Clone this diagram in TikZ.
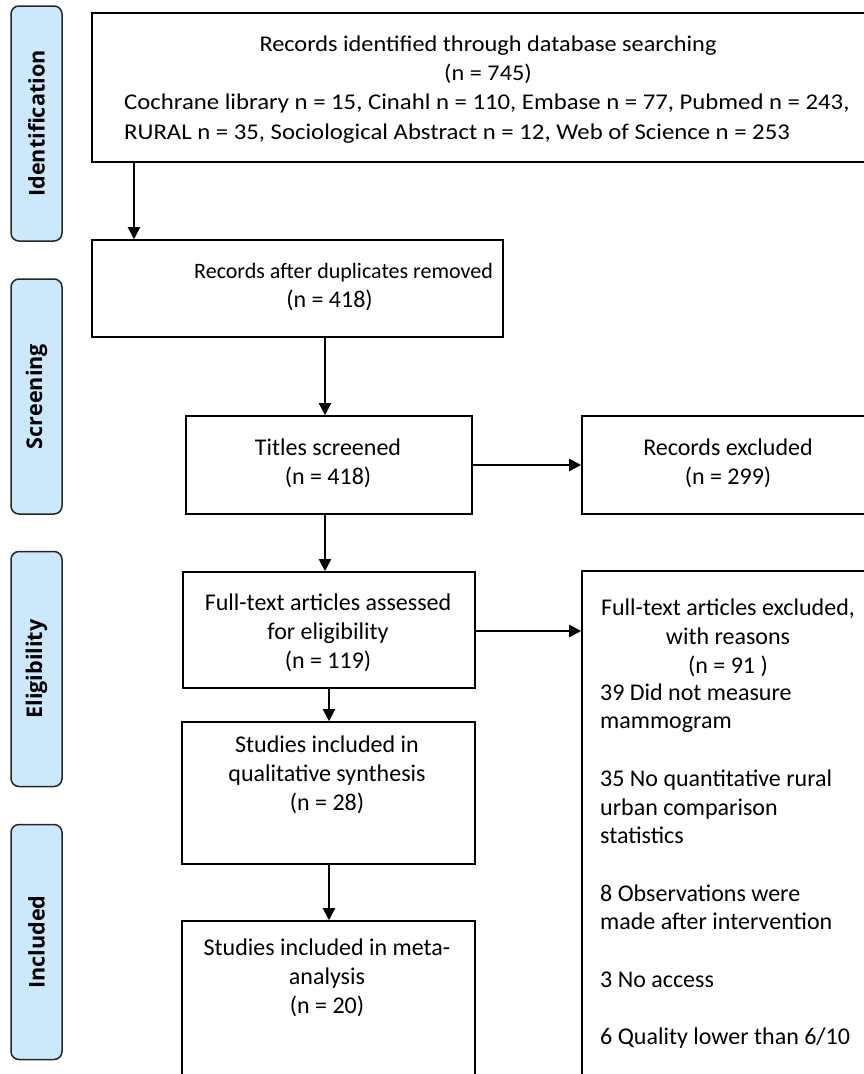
\documentclass[tikz,border=0pt]{standalone}
\usepackage{fontspec}
\setmainfont{Carlito}
\newfontfamily\condfont[FakeStretch=1.08]{Carlito}
\newfontfamily\listfont[FakeStretch=1.10]{Carlito}
\newfontfamily\sidefont{Open Sans}
\usetikzlibrary{arrows.meta}
\definecolor{sideblue}{RGB}{204,233,252}
\begin{document}
\begin{tikzpicture}[x=1pt,y=-1pt,
  box/.style={draw=black, line width=1.6pt, inner sep=0pt},
  arr/.style={line width=2pt, -{Triangle[length=12pt,width=12pt]}},
  side/.style={draw=black!85, line width=1.5pt, fill=sideblue, rounded corners=8pt,
    minimum width=51pt, minimum height=235pt, inner sep=0pt},
  sidetxt/.style={rotate=90, font=\sidefont\bfseries\fontsize{21.6}{26}\selectfont, inner sep=0pt},
  txt/.style={font=\fontsize{24}{29}\selectfont, align=center, inner sep=0pt},
  duptxt/.style={font=\fontsize{22}{26}\selectfont, inner sep=0pt},
  listtxt/.style={font=\fontsize{24}{28.7}\selectfont, align=left, inner sep=0pt},
  toptxt/.style={font=\condfont\fontsize{22.5}{29.3}\selectfont, inner sep=0pt},
  toplist/.style={font=\listfont\fontsize{22.5}{29.3}\selectfont, inner sep=0pt}
]
\useasboundingbox (0,0) rectangle (864,1074);
\clip (0,0) rectangle (864,1074);
\fill[white] (0,0) rectangle (864,1074);

% side labels
\node[side] (s1) at (36.5,123.5) {};
\node[sidetxt] (s1t) at (s1) {Identification};
\node[side] (s2) at (36.5,396.5) {};
\node[sidetxt] (s2t) at (s2) {Screening};
\node[side] (s3) at (36.5,669) {};
\node[sidetxt] (s3t) at (s3) {Eligibility};
\node[side] (s4) at (36.5,942) {};
\node[sidetxt] (s4t) at (s4) {Included};

% boxes
\node[box, minimum width=778pt, minimum height=149pt] (top) at (481,87.5) {};
\node[box, minimum width=411pt, minimum height=97pt] (dup) at (297.5,288.5) {};
\node[box, minimum width=286pt, minimum height=98pt] (titles) at (329,465) {};
\node[box, minimum width=288pt, minimum height=98pt] (recex) at (726,465) {};
\node[box, minimum width=292pt, minimum height=116pt] (full) at (329,630) {};
\node[box, minimum width=288pt, minimum height=509pt] (fex) at (726,825.5) {};
\node[box, minimum width=293pt, minimum height=142pt] (qual) at (328.5,793) {};
\node[box, minimum width=293pt, minimum height=159pt] (meta) at (328.5,1000.5) {};

% texts
\node[toptxt, align=center] (topt1) at (488,60) {Records identified through database searching\\(n = 745)};
\node[toplist, align=left, anchor=west] (topt2) at (124,118.5) {Cochrane library n = 15, Cinahl n = 110, Embase n = 77, Pubmed n = 243,\\RURAL n = 35, Sociological Abstract n = 12, Web of Science n = 253};
\node[duptxt, anchor=base east] (dupt1) at (493,278) {Records after duplicates removed};
\node[txt, anchor=base] (dupt2) at (329.5,307) {(n = 418)};
\node[txt] (titlest) at (328,463) {Titles screened\\(n = 418)};
\node[txt] (recext) at (728,463) {Records excluded\\(n = 299)};
\node[txt] (fullt) at (328,633) {Full-text articles assessed\\for eligibility\\(n = 119)};
\node[txt] (fext) at (728,638) {Full-text articles excluded,\\with reasons\\(n = 91 )};
\node[listtxt, anchor=west] (fexl) at (600,866) {39 Did not measure\\mammogram\\[28.7pt]35 No quantitative rural\\urban comparison\\statistics\\[28.7pt]8 Observations were\\made after intervention\\[28.7pt]3 No access\\[28.7pt]6 Quality lower than 6/10};
\node[txt] (qualt) at (327,775) {Studies included in\\qualitative synthesis\\(n = 28)};
\node[txt] (metat) at (327,978) {Studies included in meta-\\analysis\\(n = 20)};

% connector x positions
\coordinate (c1) at (134,0);
\coordinate (c2) at (325,0);
\coordinate (c3) at (329,0);

\draw[arr] (top.south -| c1) -- (dup.north -| c1);
\draw[arr] (dup.south -| c2) -- (titles.north -| c2);
\draw[arr] (titles.east) -- (recex.west);
\draw[arr] (titles.south -| c2) -- (full.north -| c2);
\draw[arr] (full.east |- 0,631) -- (fex.west |- 0,631);
\draw[arr] (full.south -| c3) -- (qual.north -| c3);
\draw[arr] (qual.south -| c3) -- (meta.north -| c3);
\end{tikzpicture}
\end{document}
